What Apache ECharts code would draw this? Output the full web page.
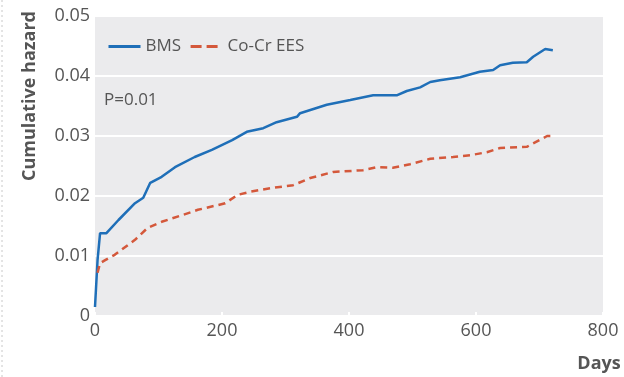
<!DOCTYPE html>
<html>
<head>
<meta charset="utf-8">
<script src="https://cdn.jsdelivr.net/npm/echarts@6/dist/echarts.min.js"></script>
<style>
  html, body { margin: 0; padding: 0; background: #fff; }
  #chart { width: 624px; height: 377px; }
</style>
</head>
<body>
<div id="chart"></div>
<script>
// values (days, cumulative hazard)
var bmsDays = [0, 4, 8, 18, 37, 63, 76, 87, 105, 126, 157, 184, 216, 239, 265, 286, 318, 323, 365, 402, 438, 476, 491, 512, 528, 543, 575, 606, 627, 638, 658, 680, 690, 709, 721];
var bmsHazard = [0.0015, 0.0093, 0.0138, 0.0138, 0.016, 0.0188, 0.0197, 0.0222, 0.0232, 0.0248, 0.0265, 0.0277, 0.0293, 0.0307, 0.0313, 0.0323, 0.0332, 0.0338, 0.0352, 0.036, 0.0368, 0.0368, 0.0375, 0.0381, 0.039, 0.0393, 0.0398, 0.0407, 0.041, 0.0418, 0.0422, 0.0423, 0.0432, 0.0445, 0.0443];
var eesDays = [4, 8, 16, 31, 63, 83, 105, 137, 162, 194, 205, 225, 244, 276, 312, 339, 375, 422, 444, 469, 496, 528, 564, 591, 617, 638, 680, 712, 721];
var eesHazard = [0.0072, 0.0088, 0.0093, 0.0102, 0.0127, 0.0147, 0.0157, 0.0168, 0.0177, 0.0185, 0.0188, 0.0202, 0.0207, 0.0213, 0.0218, 0.023, 0.024, 0.0243, 0.0248, 0.0247, 0.0253, 0.0262, 0.0265, 0.0268, 0.0273, 0.028, 0.0282, 0.03, 0.03];
var seriesNames = ["BMS", "Co-Cr EES"];
var xTicks = [0, 800, 200];
var yTicks = [0, 0.05, 0.01];

function pairs(xs, ys) {
    var out = [];
    for (var i = 0; i < xs.length; i++) out.push([xs[i], ys[i]]);
    return out;
}

var chart = echarts.init(document.getElementById("chart"));
var font = "'Open Sans', Lato, sans-serif";

var option = {
    animation: false,
    grid: {
        left: 95, right: 21, top: 16, bottom: 61,
        show: true, backgroundColor: "#ebebed", borderWidth: 0
    },
    legend: {
        left: 102, top: 33,
        itemWidth: 32, itemHeight: 14, itemGap: 8,
        itemStyle: { color: "transparent", borderWidth: 0 },
        lineStyle: { width: 3 },
        textStyle: { fontFamily: font, fontSize: 17, color: "#555" },
        data: [{ name: seriesNames[0] }, { name: seriesNames[1], lineStyle: { type: [11, 5] } }]
    },
    xAxis: {
        type: "value",
        min: xTicks[0], max: xTicks[1], interval: xTicks[2],
        axisLine: { show: false },
        axisTick: { show: true, inside: true, length: 4, lineStyle: { color: "#fff", width: 2 } },
        splitLine: { show: false },
        axisLabel: { fontFamily: font, fontSize: 18, color: "#555", margin: 6 }
    },
    yAxis: {
        type: "value",
        min: yTicks[0], max: yTicks[1], interval: yTicks[2],
        axisLine: { show: false },
        axisTick: { show: false },
        splitLine: { lineStyle: { color: "#fff", width: 2 } },
        axisLabel: {
            fontFamily: font, fontSize: 18, color: "#555", margin: 5,
            formatter: function(v) { return v === 0 ? "0" : v.toFixed(2); }
        }
    },
    graphic: [{
        type: "text", left: 104, top: 92,
        style: { text: "P=0.01", fontFamily: font, fontSize: 17, fill: "#555" }
    }, {
        type: "text", x: 30, y: 96, rotation: Math.PI / 2,
        style: { text: "Cumulative hazard", fontFamily: font, fontSize: 18, fontWeight: "bold", fill: "#555", align: "center", verticalAlign: "middle" }
    }, {
        type: "text", x: 599, y: 364,
        style: { text: "Days", fontFamily: font, fontSize: 18, fontWeight: "bold", fill: "#555", align: "center", verticalAlign: "middle" }
    }, {
        type: "line", shape: { x1: 2, y1: 0, x2: 2, y2: 377 },
        style: { stroke: "#c8c8c8", lineWidth: 1, lineDash: [2, 3] }
    }],
    series: [{
        name: seriesNames[0],
        type: "line",
        symbol: "none",
        data: pairs(bmsDays, bmsHazard),
        lineStyle: { color: "#1f6fb8", width: 2.5 },
        itemStyle: { color: "#1f6fb8" }
    }, {
        name: seriesNames[1],
        type: "line",
        symbol: "none",
        data: pairs(eesDays, eesHazard),
        lineStyle: { color: "#d4583b", width: 2.5, type: [7, 5] },
        itemStyle: { color: "#d4583b" }
    }]
};

chart.setOption(option);
</script>
</body>
</html>
